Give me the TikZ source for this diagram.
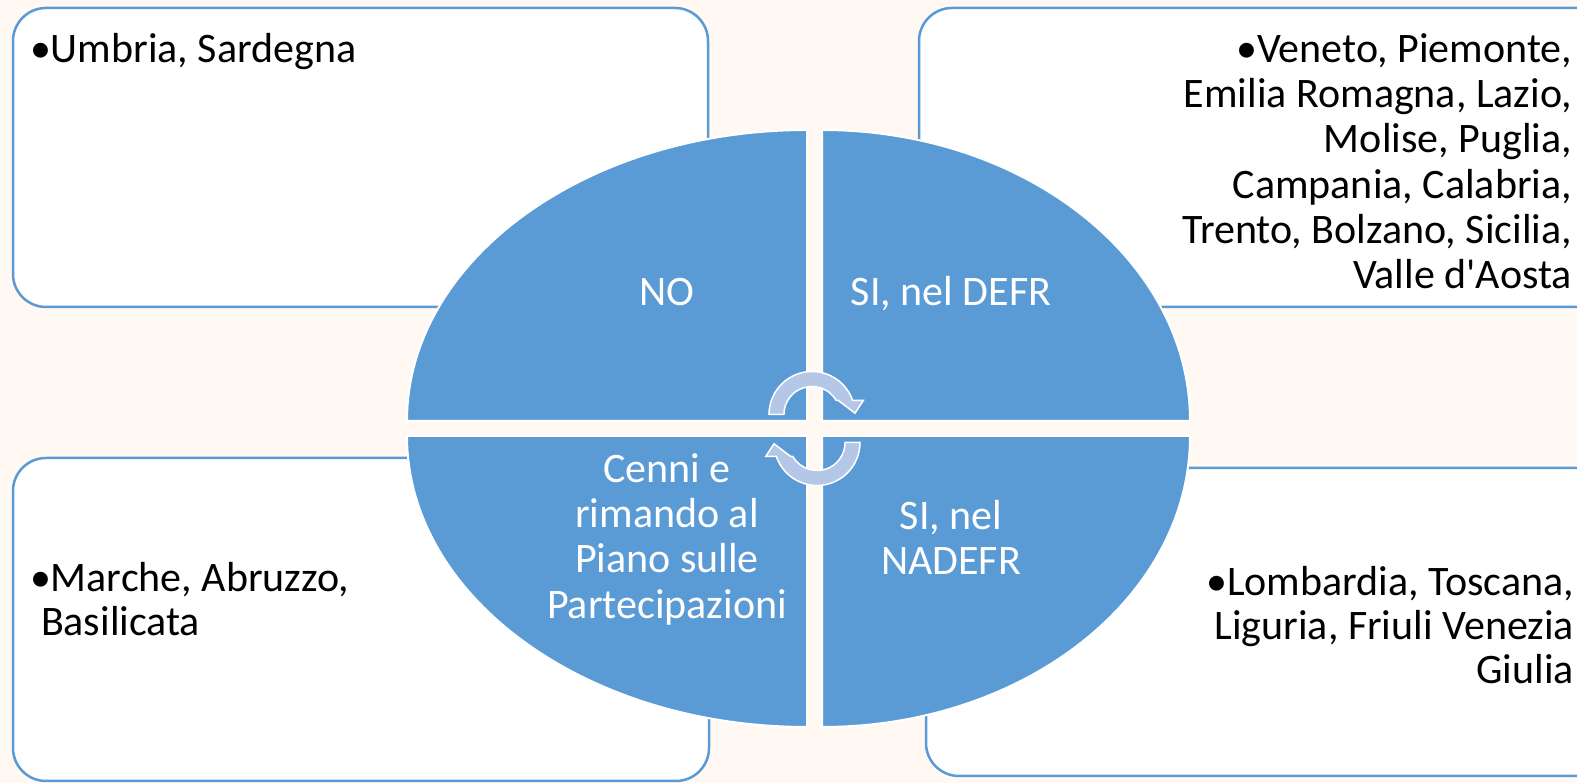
\documentclass[tikz,border=0pt]{standalone}
\usepackage{fontspec}
\setmainfont{Carlito}
\definecolor{quadblue}{HTML}{5B9BD5}
\definecolor{arrowblue}{HTML}{B4C7E7}
\definecolor{paper}{HTML}{FFF8F3}

\begin{document}
\begin{tikzpicture}[x=1pt, y=1pt]
\tikzset{ inner sep=0pt, outer sep=0pt,
  box/.style={draw=quadblue, fill=white, line width=2.5pt, rounded corners=33pt},
  quad/.style={fill=quadblue, draw=white, line width=2pt},
  cyc/.style={fill=arrowblue, draw=white, line width=1.5pt},
  txt/.style={font=\fontsize{42}{45}\selectfont},
  wtxt/.style={txt, text=white},
}

\fill [paper] (0,0) rectangle (1577,783);
\useasboundingbox (0,0) rectangle (1577,783);
\clip (0,0) rectangle (1577,783);

% boxes
\draw [box] (13,476) rectangle (708,775);
\draw [box] (919,476) rectangle (1614,775);
\draw [box] (13,2) rectangle (709,325);
\draw [box] (926,7) rectangle (1621,315);

% ellipse in four parts
\draw [quad] (807,362) -- (407,362) arc [start angle=180, end angle=90, x radius=400, y radius=291] -- cycle;
\draw [quad] (822,362) -- (822,653) arc [start angle=90, end angle=0, x radius=368, y radius=291] -- cycle;
\draw [quad] (807,347) -- (807,56) arc [start angle=270, end angle=180, x radius=400, y radius=291] -- cycle;
\draw [quad] (822,347) -- (1190,347) arc [start angle=0, end angle=-90, x radius=368, y radius=291] -- cycle;

% circular arrows
\begin{scope}[shift={(812,368.5)}]
  \draw [cyc] (-43,0) arc [start angle=180, end angle=19, radius=43] -- (51.3,14) -- (43,1.3)
    -- (26.3,14) -- (24.2,14) arc [start angle=30, end angle=180, radius=28] -- cycle;
\end{scope}
\begin{scope}[shift={(814.5,354.5)}, rotate=180, shift={(-2.5,14)}]
  \draw [cyc] (-43,0) arc [start angle=180, end angle=19, radius=43] -- (51.3,14) -- (43,1.3)
    -- (26.3,14) -- (24.2,14) arc [start angle=30, end angle=180, radius=28] -- cycle;
\end{scope}

% quadrant labels
\node [wtxt, anchor=base] (no) at (667,477) {NO};
\node [wtxt, anchor=base] (defr) at (951,477) {SI, nel DEFR};
\node [wtxt, anchor=base] (cenni1) at (667,300) {Cenni e};
\node [wtxt, anchor=base] (cenni2) at (667,255) {rimando al};
\node [wtxt, anchor=base] (cenni3) at (667,210) {Piano sulle};
\node [wtxt, anchor=base] (cenni4) at (667,164) {Partecipazioni};
\node [wtxt, anchor=base] (nadefr1) at (951,253) {SI, nel};
\node [wtxt, anchor=base] (nadefr2) at (951,208) {NADEFR};

% box texts
\node [txt, anchor=base west] (umbria) at (30,720) {•Umbria, Sardegna};

\node [txt, anchor=base east] (veneto1) at (1572,720) {•Veneto, Piemonte,};
\node [txt, anchor=base east] (veneto2) at (1572,675) {Emilia Romagna, Lazio,};
\node [txt, anchor=base east] (veneto3) at (1572,630) {Molise, Puglia,};
\node [txt, anchor=base east] (veneto4) at (1572,584) {Campania, Calabria,};
\node [txt, anchor=base east] (veneto5) at (1572,539) {Trento, Bolzano, Sicilia,};
\node [txt, anchor=base east] (veneto6) at (1572,494) {Valle d\textquotesingle Aosta};

\node [txt, anchor=base west] (marche1) at (30,191) {•Marche, Abruzzo,};
\node [txt, anchor=base west] (marche2) at (41,147) {Basilicata};

\node [txt, anchor=base east] (lomb1) at (1574,187) {•Lombardia, Toscana,};
\node [txt, anchor=base east] (lomb2) at (1574,143) {Liguria, Friuli Venezia};
\node [txt, anchor=base east] (lomb3) at (1574,99) {Giulia};
\end{tikzpicture}
\end{document}
